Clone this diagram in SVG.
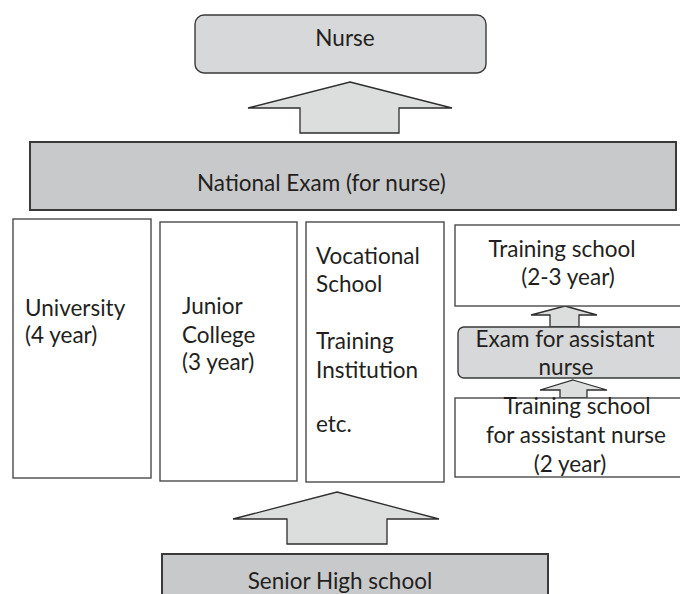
<svg xmlns="http://www.w3.org/2000/svg" width="680" height="594" viewBox="0 0 680 594">
  <style>
    .lbl { font-family: Lato, "Open Sans", "Liberation Sans", sans-serif; font-size: 22.5px; fill: #231f20; }
    .mid { text-anchor: middle; }
    .box { fill: #ffffff; stroke: #4a4a4a; stroke-width: 1.4; }
    .dark { fill: #c8c9ca; stroke: #3a3a3a; stroke-width: 2; }
    .soft { fill: #d7d8d9; stroke: #3a3a3a; stroke-width: 1.4; }
    .arrow { fill: #dcdddd; stroke: #2e2e2e; stroke-width: 1.3; stroke-linejoin: miter; }
  </style>

  <rect width="680" height="594" fill="#ffffff"/>

  <!-- flow arrows -->
  <g id="connectors">
    <polygon class="arrow" points="350,82 452,108 399,108 399,133 300,133 300,108 248,108"/>
    <polygon class="arrow" points="337,492 439,519 387,519 387,544 287,544 287,519 233,519"/>
    <polygon class="arrow" points="565,306 597,315 579,315 579,327 550,327 550,315 531,315"/>
    <polygon class="arrow" points="573,380 607,390 587,390 587,398 560,398 560,390 540,390"/>
  </g>

  <g id="nurse">
    <rect class="soft" x="195" y="15" width="291" height="58" rx="9"/>
    <text class="lbl mid" x="345" y="46">Nurse</text>
  </g>

  <g id="national-exam">
    <rect class="dark" x="30" y="142" width="646" height="68"/>
    <text class="lbl" x="197" y="191">National Exam (for nurse)</text>
  </g>

  <g id="university">
    <rect class="box" x="13" y="219" width="138" height="259"/>
    <text class="lbl" x="25" y="316">University</text>
    <text class="lbl" x="25" y="343">(4 year)</text>
  </g>

  <g id="junior-college">
    <rect class="box" x="160" y="222" width="137" height="259"/>
    <text class="lbl" x="182" y="314">Junior</text>
    <text class="lbl" x="182" y="343">College</text>
    <text class="lbl" x="182" y="370">(3 year)</text>
  </g>

  <g id="vocational">
    <rect class="box" x="306" y="222" width="138" height="260"/>
    <text class="lbl" x="316" y="264">Vocational</text>
    <text class="lbl" x="316" y="292">School</text>
    <text class="lbl" x="316" y="349">Training</text>
    <text class="lbl" x="316" y="378">Institution</text>
    <text class="lbl" x="316" y="432">etc.</text>
  </g>

  <g id="training-school">
    <rect class="box" x="455" y="225" width="240" height="81"/>
    <text class="lbl mid" x="562" y="257">Training school</text>
    <text class="lbl mid" x="568" y="285">(2-3 year)</text>
  </g>

  <g id="assistant-exam">
    <rect class="soft" x="458" y="327" width="240" height="51" rx="6"/>
    <text class="lbl mid" x="565" y="347">Exam for assistant</text>
    <text class="lbl mid" x="566" y="375">nurse</text>
  </g>

  <g id="assistant-training">
    <rect class="box" x="455" y="398" width="240" height="79"/>
    <text class="lbl mid" x="577" y="414">Training school</text>
    <text class="lbl mid" x="576" y="443">for assistant nurse</text>
    <text class="lbl mid" x="570" y="472">(2 year)</text>
  </g>

  <g id="senior-high">
    <rect class="dark" x="162" y="554" width="386" height="50"/>
    <text class="lbl mid" x="340" y="589">Senior High school</text>
  </g>
</svg>
